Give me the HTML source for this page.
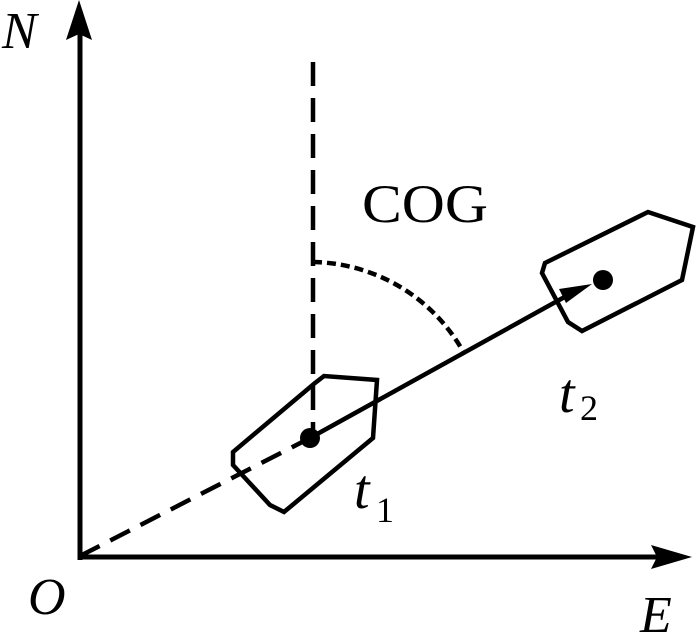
<!DOCTYPE html>
<html><head><style>
html,body{margin:0;padding:0;background:#fff;}
svg{display:block;}
text{font-family:"Liberation Serif",serif;fill:#000;}
</style></head><body>
<svg width="700" height="634" viewBox="0 0 700 634">
<!-- axes -->
<line x1="80" y1="560" x2="80" y2="32" stroke="#000" stroke-width="5"/>
<polygon points="79,0 92,40 79,34 66,40" fill="#000"/>
<line x1="78" y1="557" x2="660" y2="557" stroke="#000" stroke-width="5"/>
<polygon points="692,557 651,545 657,557 651,569" fill="#000"/>
<!-- dashed from O to t1 -->
<line x1="80" y1="556" x2="310" y2="438" stroke="#000" stroke-width="4.5" stroke-dasharray="22,12"/>
<!-- solid heading line -->
<line x1="310" y1="438" x2="570" y2="294" stroke="#000" stroke-width="4.5"/>
<polygon points="592,284 559,289 566,303" fill="#000"/>
<!-- vertical dashed -->
<line x1="313" y1="62" x2="313" y2="438" stroke="#000" stroke-width="4.5" stroke-dasharray="24,12"/>
<!-- arc -->
<path d="M313,262 A176,176 0 0 1 464,353" fill="none" stroke="#000" stroke-width="4.5" stroke-dasharray="9,5"/>
<!-- ship 1 -->
<polygon points="315,383 324,376 377,380 373,438 284,512 270,505 233,465 233,452" fill="none" stroke="#000" stroke-width="4.5"/>
<circle cx="310" cy="438" r="10" fill="#000"/>
<!-- ship 2 -->
<polygon points="545,263 648,212 693,227 682,280 582,331 568,322 542,273" fill="none" stroke="#000" stroke-width="4.5"/>
<circle cx="603" cy="280" r="10" fill="#000"/>
<!-- labels -->
<text x="2" y="48" font-size="52" font-style="italic">N</text>
<text x="28" y="614" font-size="52" font-style="italic">O</text>
<text x="640" y="632" font-size="52" font-style="italic">E</text>
<text x="362" y="222" font-size="54" textLength="126" lengthAdjust="spacingAndGlyphs">COG</text>
<text x="354" y="508" font-size="56" font-style="italic">t</text>
<text x="376" y="522" font-size="36">1</text>
<text x="559" y="412" font-size="56" font-style="italic">t</text>
<text x="580" y="420" font-size="36">2</text>
</svg>
</body></html>
